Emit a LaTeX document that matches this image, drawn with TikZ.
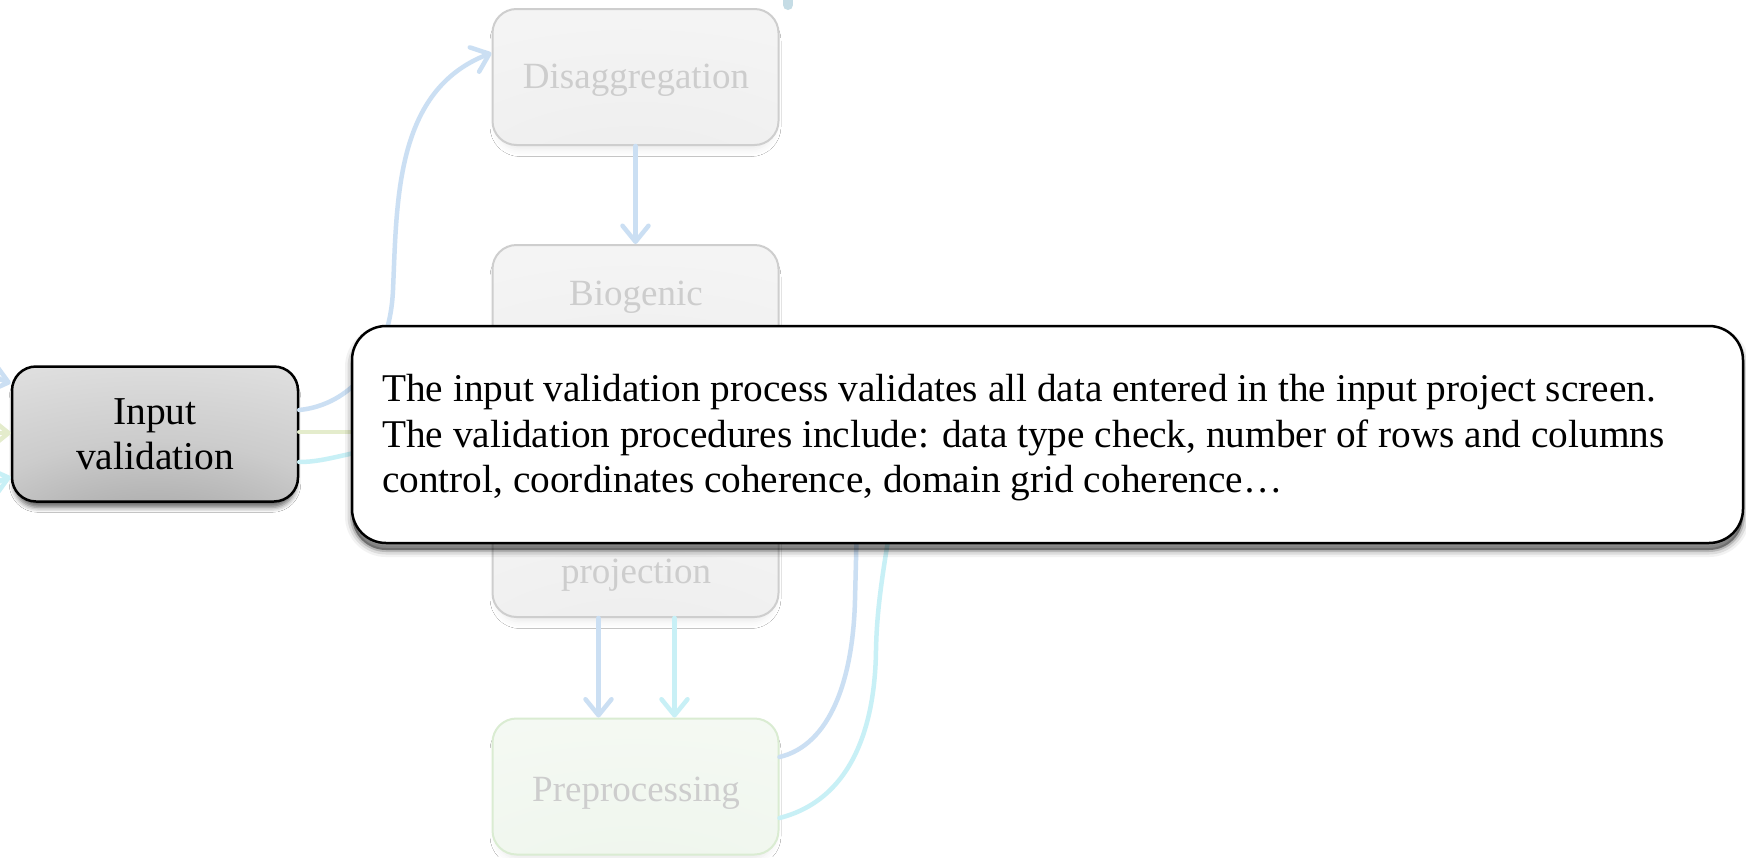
\documentclass[tikz,border=0pt]{standalone}
\usepackage{fontspec}
\setmainfont{Liberation Serif}
\usetikzlibrary{arrows.meta,shadows.blur}

\definecolor{flowblue}{RGB}{203,223,243}
\definecolor{flowcyan}{RGB}{200,240,246}
\definecolor{flowgreen}{RGB}{228,236,204}
\definecolor{fadedtext}{RGB}{205,205,205}
\definecolor{fadedline}{RGB}{206,206,206}
\definecolor{preline}{RGB}{218,236,210}
\definecolor{topmark}{RGB}{197,220,229}

% dark spot at the bottom centre of the active step
\pgfdeclareradialshading{inputshade}{\pgfpoint{0bp}{-50bp}}{%
  rgb(0bp)=(0.60,0.60,0.60); rgb(15bp)=(0.68,0.68,0.68);
  rgb(35bp)=(0.80,0.80,0.80); rgb(60bp)=(0.88,0.88,0.88);
  rgb(90bp)=(0.94,0.94,0.94); rgb(140bp)=(0.95,0.95,0.95)}
% faded (inactive) steps
\pgfdeclareradialshading{fadedshade}{\pgfpoint{0bp}{-50bp}}{%
  rgb(0bp)=(0.925,0.925,0.925); rgb(50bp)=(0.955,0.955,0.955);
  rgb(140bp)=(0.975,0.975,0.975)}
\pgfdeclareradialshading{preshade}{\pgfpoint{0bp}{-50bp}}{%
  rgb(0bp)=(0.93,0.96,0.92); rgb(50bp)=(0.955,0.975,0.95);
  rgb(140bp)=(0.975,0.985,0.97)}

\tikzset{
  softshadow/.style={
    preaction={draw=black, line width=14pt, opacity=0.05, transform canvas={yshift=-7pt}},
    preaction={draw=black, line width=9pt, opacity=0.09, transform canvas={yshift=-7pt}},
    preaction={draw=black, line width=4pt, opacity=0.16, transform canvas={yshift=-7pt}},
    preaction={fill=black, opacity=0.4, transform canvas={yshift=-7pt}}},
  fadedbox/.style={draw=fadedline, line width=2pt, rounded corners=24pt,
    minimum width=286pt, minimum height=136pt, inner sep=0pt,
    shade, shading=fadedshade, text=fadedtext,
    font=\fontsize{37pt}{40pt}\selectfont,
    blur shadow={shadow xshift=0pt, shadow yshift=-7pt, shadow scale=0.97,
      shadow blur radius=7pt, shadow opacity=8}},
  fadedlabel/.style={text=fadedtext, inner sep=0pt, anchor=base,
    font=\fontsize{37pt}{40pt}\selectfont},
  activebox/.style={draw=black, line width=2.5pt, rounded corners=24pt,
    minimum width=286pt, minimum height=135pt, inner sep=0pt,
    shade, shading=inputshade, align=center,
    font=\fontsize{39.5pt}{45pt}\selectfont,
    blur shadow={shadow xshift=0pt, shadow yshift=-7pt, shadow scale=0.985,
      shadow blur radius=5pt, shadow opacity=60}},
  calloutbox/.style={draw=black, line width=2.5pt, rounded corners=34pt,
    fill=white, minimum width=1391pt, minimum height=217pt, inner sep=0pt,
    softshadow},
  flow/.style={line width=4.5pt, line cap=round},
  tip/.style={-{Straight Barb[length=16pt,width=26pt,round]}}
}

\begin{document}
\begin{tikzpicture}[x=1pt,y=-1pt]
\useasboundingbox (0,0) rectangle (1746,857);
\clip (0,0) rectangle (1746,857);
\fill[white] (0,0) rectangle (1746,857);

% faded process steps
\node[fadedbox] (dis) at (635.5,77) {};
\node[fadedlabel] (dist) at (636,88) {Disaggregation};
\node[fadedbox] (bio) at (635.5,313) {};
\node[fadedlabel] (biot) at (636,305) {Biogenic};
\node[fadedbox] (proj) at (635.5,549) {};
\node[fadedlabel] (projt) at (636,583) {projection};
\node[fadedbox, draw=preline, shading=preshade] (pre) at (635.5,786.5) {};
\node[fadedlabel] (pret) at (636,801) {Preprocessing};

% active step
\node[activebox] (inp) at (155,434) {Input\\validation};

% connector entering from above the frame
\coordinate (topA) at (788,-20);
\coordinate (topB) at (788,5);
\draw[line width=10pt, topmark, line cap=round] (topA) -- (topB);

% flows between the faded steps
\draw[flow, flowblue, tip] (dis.south) -- (bio.north);
\draw[flow, flowblue, tip] ([xshift=-37pt]proj.south) -- ([xshift=-37pt]pre.north);
\draw[flow, flowcyan, tip] ([xshift=39pt]proj.south) -- ([xshift=39pt]pre.north);

% flows leaving the preprocessing step upwards
\coordinate (preUpB) at (858,480);
\coordinate (preUpC) at (898,480);
\draw[flow, flowblue] ([yshift=29.5pt]pre.east) .. controls (830,745) and (853,680) .. (855,600) -- (preUpB);
\draw[flow, flowcyan] ([yshift=-31.5pt]pre.east) .. controls (850,800) and (875,730) .. (876,650) .. controls (877,600) and (885,560) .. (preUpC);

% flows arriving from the left
\coordinate (inB) at (-40,345);
\coordinate (inG) at (-40,433);
\coordinate (inC) at (-40,515);
\draw[flow, flowblue, tip] (inB) .. controls (-15,360) and (-8,378) .. ([yshift=51pt]inp.west);
\draw[flow, flowgreen, tip] (inG) -- ([yshift=1pt]inp.west);
\draw[flow, flowcyan, tip] (inC) .. controls (-15,500) and (-8,482) .. ([yshift=-43pt]inp.west);

% flows leaving the input validation step
\coordinate (outG) at (440,432);
\coordinate (outC) at (440,438);
\draw[flow, flowblue, tip] ([yshift=24pt]inp.east) .. controls (350,405) and (390,360) .. (393,290) .. controls (397,200) and (395,90) .. ([yshift=24pt]dis.west);
\draw[flow, flowgreen] ([yshift=2pt]inp.east) -- (outG);
\draw[flow, flowcyan] ([yshift=-28pt]inp.east) .. controls (330,462) and (350,450) .. (outC);

% description callout
\node[calloutbox] (call) at (1047.5,434.5) {};
\node[anchor=north west, align=left, inner sep=0pt,
  font=\fontsize{39.3pt}{45.6pt}\selectfont] (calltext) at (382,374)
  {The input validation process validates all data entered in the input project screen.\\
   The validation procedures include: data type check, number of rows and columns\\
   control, coordinates coherence, domain grid coherence…};
\end{tikzpicture}
\end{document}
